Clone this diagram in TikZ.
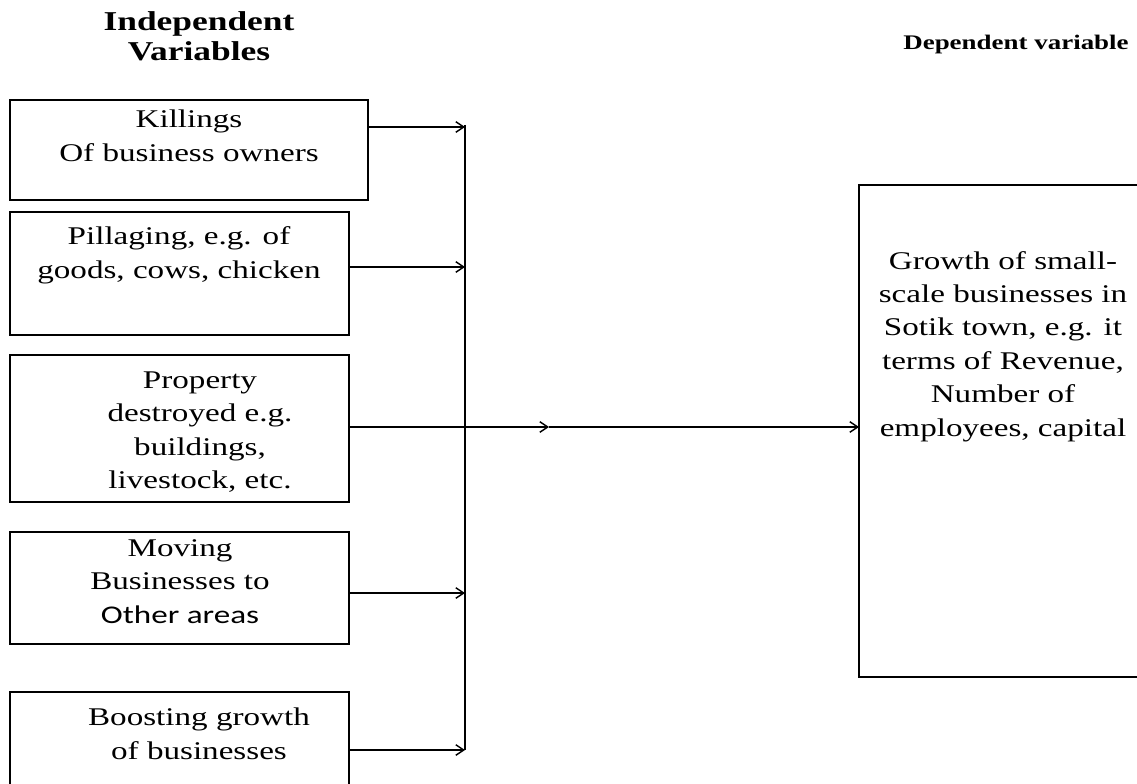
\documentclass[tikz,border=0pt]{standalone}
\usepackage{fontspec}
\setmainfont{Liberation Serif}
\newfontfamily\calibri{Carlito}
\usepackage{graphicx}
\usetikzlibrary{arrows.meta,positioning}

\newcommand{\bodysize}{\fontsize{14.5}{19}\selectfont\setbox\strutbox\hbox{\vrule height13.3pt depth5.7pt width0pt}}
\newcommand{\headsize}{\fontsize{15.5}{17}\selectfont\bfseries\setbox\strutbox\hbox{\vrule height12pt depth5pt width0pt}}
\newcommand{\smallhead}{\fontsize{11.8}{14}\selectfont\bfseries}
\newcommand{\wide}[1]{\scalebox{1.3}[1]{\begin{tabular}{@{}c@{}}#1\end{tabular}}}

\tikzstyle{box} = [rectangle, draw, line width=1pt, inner sep=0pt, outer sep=0pt, anchor=north west]
\tikzstyle{txt} = [font=\bodysize, inner sep=0pt]
\tikzstyle{head} = [font=\headsize, inner sep=0pt]
\tikzstyle{line} = [draw, line width=0.8pt]

\begin{document}
\begin{tikzpicture}[x=0.02cm, y=-0.02cm, >={Straight Barb[length=4.5pt,width=6pt]}]
    \useasboundingbox (0,0) rectangle (1137,784);

    % headings
    \node [head] (indep) at (199,39) {\wide{Independent\\Variables}};
    \node [font=\smallhead, inner sep=0pt] (dep) at (1016,45) {\wide{Dependent variable}};

    % independent variables
    \node [box, minimum width=7.16cm, minimum height=2cm] (kill) at (10,100) {};
    \node [box, minimum width=6.78cm, minimum height=2.46cm] (pill) at (10,212) {};
    \node [box, minimum width=6.78cm, minimum height=2.94cm] (prop) at (10,355) {};
    \node [box, minimum width=6.78cm, minimum height=2.24cm] (move) at (10,532) {};
    \node [box, minimum width=6.78cm, minimum height=2.4cm] (boost) at (10,692) {};

    \node [txt] (killtxt) at (189,138) {\wide{Killings\\Of business owners}};
    \node [txt] (pilltxt) at (179,255) {\wide{Pillaging, e.g. of\\goods, cows, chicken}};
    \node [txt] (proptxt) at (200,432) {\wide{Property\\destroyed e.g.\\buildings,\\livestock, etc.}};
    \node [txt] (movetxt) at (180,583) {\wide{Moving\\Businesses to\\{\calibri Other areas}}};
    \node [txt] (boosttxt) at (199,736) {\wide{Boosting growth\\of businesses}};

    % dependent variable
    \node [box, minimum width=6.4cm, minimum height=9.84cm] (growth) at (859,185) {};
    \node [txt] (growthtxt) at (1003,346) {\wide{Growth of small-\\scale businesses in\\Sotik town, e.g. it\\terms of Revenue,\\Number of\\employees, capital}};

    % bus
    \coordinate (bustop) at (465,125);
    \coordinate (b1) at (465,127);
    \coordinate (b2) at (465,267);
    \coordinate (b4) at (465,593);
    \coordinate (b5) at (465,750);
    \coordinate (midarr) at (549,427);

    \draw [line] (bustop) -- (b5);
    \draw [line,->] (kill.east |- b1) -- (b1);
    \draw [line,->] (pill.east |- b2) -- (b2);
    \draw [line,->] (move.east |- b4) -- (b4);
    \draw [line,->] (boost.east |- b5) -- (b5);
    \draw [line,->] (prop.east |- midarr) -- (midarr);
    \draw [line,->] (midarr) -- (midarr -| growth.west);
\end{tikzpicture}
\end{document}
